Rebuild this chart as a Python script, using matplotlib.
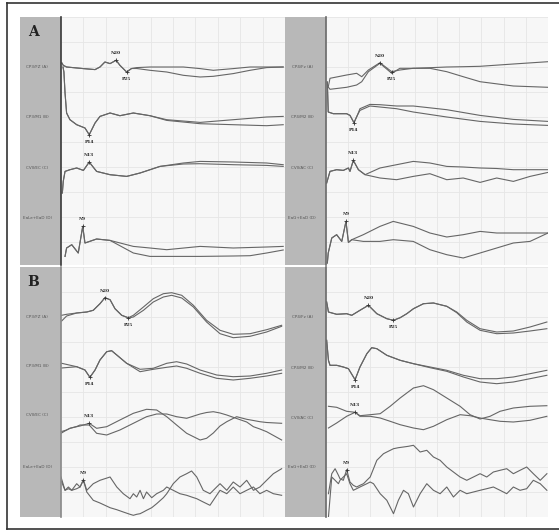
import numpy as np
import matplotlib.pyplot as plt
from matplotlib.lines import Line2D

# time in ms, amplitudes in display units (up = positive), two averaged runs per channel

# ---------- panel A, left side ----------
AL1_t = [0.4, 1.0, 2.5, 10, 15.2, 17.4, 19.6, 21.9, 24.6, 26.3, 29.3, 31.5, 33.8, 39.7, 47.2, 54.6, 62.1, 68, 76.9, 84.4, 91.8, 99.2]
AL1_a = [4, 1.7, 0, -1.6, -2.6, 0, 5, 3.4, 6.7, 1.7, -5, -1.5, -0.6, 0, 0, 0, -1.6, -3.3, -1.6, 0, 0, 0]
AL1_b = [4, 1.7, 0, -1.6, -2.6, 0, 5, 3.4, 6.7, 1.7, -5, -1.5, -1.5, -3.3, -5, -8.3, -10, -9.3, -6.6, -3.3, -0.6, 0]

AL2_t = [0.9, 1.3, 1.8, 2.5, 4, 7, 10.7, 12.6, 15.2, 17.4, 21.9, 26.3, 32.3, 39.7, 47.2, 62.1, 76.9, 91.8, 99.2]
AL2_a = [50, 45, 24, 4, -2.7, -7.7, -11, -17.7, -6, 0.6, 4, 1.3, 4, 1.3, -2.7, -5.4, -2.7, 0, 0.6]
AL2_b = [50, 45, 24, 4, -2.7, -7.7, -11, -17.7, -6, 0.6, 4, 1.3, 4, 1.3, -3.4, -6.7, -7.7, -8.7, -7.7]

AL3_t = [0.6, 1.0, 1.8, 4, 7, 10, 12.6, 15.9, 21.9, 29.3, 35.3, 44.2, 54.6, 62.1, 76.9, 91.8, 99.2]
AL3_a = [-25, -13.4, -3.4, -1.7, 0, -2.4, 5.9, -3.4, -6.7, -8.4, -5, 1.6, 5, 6.6, 6, 5, 3.3]
AL3_b = [-25, -13.4, -3.4, -1.7, 0, -2.4, 5.9, -3.4, -6.7, -8.4, -5, 1.6, 4, 4.3, 3.3, 2.6, 1.6]

AL4_t = [1.8, 2.5, 4.8, 7.7, 9.7, 10.7, 15.9, 21.9, 32.3, 39.7, 47.2, 62.1, 76.9, 84.4, 91.8, 99.2]
AL4_a = [-38.4, -30, -26.7, -35, -8.4, -25, -21, -22.4, -28.4, -30, -31.7, -28.4, -30, -29.5, -29, -28.4]
AL4_b = [-38.4, -30, -26.7, -35, -8.4, -25, -21, -22.4, -35, -38.4, -38.4, -38.4, -38, -37.7, -35, -32]

# ---------- panel A, right side ----------
AR1_t = [1.0, 1.8, 9.3, 13.8, 16.1, 19.1, 24.3, 29.6, 33.3, 39.3, 46.8, 54.4, 61.8, 69.4, 84.4, 100]
AR1_a = [-20, -11.3, -8, -6.3, -9.7, -3, 4.3, -4.7, -3, -1.3, -0.7, 0, 0.3, 0.7, 3, 5.3]
AR1_b = [-20, -22.3, -20.3, -18, -14.7, -4.7, 3.7, -6.3, -1.3, -1.3, -1.3, -4.7, -9.7, -14.7, -19, -20.3]

AR2_t = [0.6, 1.0, 3.3, 9.3, 10.8, 12.6, 14.1, 15.3, 19.8, 24.3, 31.8, 39.3, 54.4, 69.4, 84.4, 100]
AR2_a = [35, 5, 3.3, 3.3, 1.6, -5.7, 1.6, 8.3, 12.6, 12.3, 11, 11, 7.3, 1.6, -2.4, -4.4]
AR2_b = [35, 5, 3.3, 3.3, 1.6, -5.7, 1.6, 6.6, 11, 10, 8.3, 5, 0, -4.4, -7, -8.4]

AR3_t = [0.3, 1.8, 4.8, 7.8, 10.1, 10.8, 12.3, 14.6, 17.6, 24.3, 31.8, 39.3, 46.8, 54.4, 61.8, 69.4, 76.9, 84.4, 91.9, 100]
AR3_a = [-15, -3.4, -1.7, -2.4, 0, -3.4, 7.6, -1.7, -6.7, 0, 3.3, 6.6, 5, 1.6, 1, 0, -0.5, -1.7, -1.7, -1.7]
AR3_b = [-15, -3.4, -1.7, -2.4, 0, -3.4, 7.6, -1.7, -6.7, -10, -11.7, -8.4, -5.7, -11.7, -10, -14.4, -10, -13.4, -8.4, -4.4]

AR4_t = [0.6, 1.0, 2.6, 4.8, 7.1, 9.0, 10.1, 11.6, 16.8, 24.3, 30.3, 39.3, 46.8, 54.4, 61.8, 69.4, 76.9, 84.4, 91.9, 100]
AR4_a = [-45, -35, -20, -16.7, -23.4, -3.4, -24.4, -21.7, -16.7, -8.4, -3.4, -8.4, -15, -19, -16.7, -13.4, -15, -15, -15, -15]
AR4_b = [-45, -35, -20, -16.7, -23.4, -3.4, -24.4, -21.7, -23.4, -23.4, -21.7, -23.4, -31.7, -36.7, -40, -35, -30, -25, -23.4, -15]

# ---------- panel B, left side ----------
BL1_t = [0.3, 2.5, 7, 11.5, 14.4, 17.4, 19.6, 21.9, 24.1, 27.1, 30.1, 32.3, 36.8, 41.2, 45.7, 49.4, 53.9, 59.1, 65, 71, 76.9, 84.4, 91.8, 98.5]
BL1_a = [1.7, 2.7, 4, 5, 6.7, 13.3, 19.3, 17.3, 8.3, 1.7, -0.7, 1.7, 10, 18.3, 23.3, 24.3, 21.7, 11.7, -3.3, -13.3, -17.3, -16.7, -12.7, -8.3]
BL1_b = [-4, 1, 4, 5, 6.7, 13.3, 19.3, 17.3, 8.3, 1.7, -1, 0, 6.7, 15, 20, 21.7, 19, 10, -5, -16.7, -20.7, -19.3, -15, -9.3]

BL2_t = [0.3, 7, 10.7, 12.9, 15.2, 17.4, 20.4, 22.6, 24.9, 29.3, 35.3, 41.2, 47.2, 51.6, 56.1, 62.1, 69.5, 76.9, 84.4, 91.8, 98.5]
BL2_a = [2.7, -0.7, -4, -11.3, -4, 6, 14.3, 15.3, 11, 2.7, -3.3, -2.3, 2.7, 4.3, 2, -4, -9, -10.7, -10, -7.3, -4]
BL2_b = [-2, -0.7, -4, -11.3, -4, 6, 14.3, 15.3, 11, 2.7, -5.7, -3.3, -1.3, 0, -2.3, -7.3, -12.3, -14, -12.3, -10, -7.3]

BL3_t = [0, 2.5, 4, 7, 8.5, 10, 12.6, 15.9, 20.4, 26.3, 32.3, 38.2, 42.7, 47.2, 51.6, 56.1, 62.1, 65, 68, 71, 74, 78.4, 82.9, 85.9, 88.8, 91.8, 98.5]
BL3_a = [-18.3, -15, -13.3, -11.7, -11, -10, -8.3, -13.3, -11.7, -5, 1.7, 5.7, 5, -1.7, -10, -18.3, -25, -23.3, -18, -11, -6.7, -1.7, -4.3, -5.5, -6.7, -7.5, -8.3]
BL3_b = [-16.7, -15, -13.3, -11.5, -10, -10, -10, -18.3, -20, -15, -8.3, -1.7, 1, 1, -1.7, -3.3, 1, 2.5, 3.3, 2, 0, -3.5, -7, -11.7, -14, -16.7, -25]

BL4_t = [0, 1.8, 3.3, 4.8, 7, 8.5, 10, 11.5, 14.4, 17.4, 21.9, 24.9, 27.8, 30.8, 32.3, 33.8, 35.3, 36.8, 38.2, 40.5,
         42.7, 45.7, 47.2, 50.1, 53.1, 56.1, 58.3, 60.6, 63.5, 66.5, 69.5, 71, 74, 76.9, 79.9, 82.9, 85.9, 88.8, 91.8, 94.8, 98.5]
BL4_a = [-10, -23.3, -20, -23.3, -16.7, -20, -12.7, -23.3, -16.7, -13.3, -10, -20, -26.7, -31.7, -26.7, -30, -23.3, -31.7, -25, -30.7,
         -26.7, -23.3, -20, -23.3, -26.7, -28.3, -30, -31.7, -35, -38.3, -28.3, -23.3, -26.7, -20, -26.7, -23.3, -20, -26.7, -23.3, -26.7, -28.3]
BL4_b = [-13.3, -23.3, -21.7, -23.3, -21.7, -20, -13.3, -25, -33.3, -36, -40.7, -42.7, -45, -47.3, -48.3, -47.3, -46.7, -45, -43.3, -40.7,
         -36.7, -30.7, -26.7, -16.7, -10, -6.7, -4, -10, -23.3, -26.7, -20, -16.7, -23.3, -15, -20, -13.3, -23.3, -20, -13.3, -6.7, -1.7]

# ---------- panel B, right side ----------
BR1_t = [0.3, 1.1, 4.8, 9.3, 11.6, 15.3, 19.1, 22.9, 27.4, 30.4, 33.4, 36.4, 39.4, 43.9, 48.4, 54.4, 58.9, 63.4, 69.4, 76.9, 84.4, 91.9, 99.5]
BR1_a = [15, 5, 2.7, 3.3, 1.7, 6.7, 11.7, 3.3, -1.7, -3.3, -0.7, 3.3, 8.3, 13.3, 14, 10.7, 5, -3.3, -11.7, -15, -14, -10, -5]
BR1_b = [15, 5, 2.7, 3.3, 1.7, 6.7, 11.7, 3.3, -1.7, -3.3, -0.7, 3.3, 8.3, 13.3, 14, 10.7, 4.3, -5, -13.3, -16.7, -16, -14, -11.7]

BR2_t = [0.3, 1.1, 1.8, 4.8, 7.8, 10.1, 13.1, 15.3, 18.4, 20.6, 22.9, 27.4, 33.4, 39.4, 46.9, 54.4, 61.9, 69.4, 76.9, 84.4, 91.9, 99.5]
BR2_a = [27.7, 7.7, 2.7, 2.7, 1, -0.7, -11.7, 1, 14.3, 20.3, 19.3, 12.7, 7.7, 4.3, 1, -2.3, -7.3, -10.7, -10.7, -9, -5.7, -2.3]
BR2_b = [27.7, 7.7, 2.7, 2.7, 1, -0.7, -11.7, 1, 14.3, 20.3, 19.3, 12.7, 7.7, 4.3, 0.3, -3.3, -9, -14, -15.7, -14, -10.7, -7.3]

BR3_t = [1.1, 4.8, 9.3, 13.1, 15.3, 19.9, 24.4, 28.9, 33.4, 39.4, 43.9, 48.4, 54.4, 60.4, 64.9, 69.4, 73.9, 78.4, 84.4, 91.9, 99.5]
BR3_a = [11.7, 10.7, 6.7, 5.7, 1.7, 1.7, 0, -3.3, -6.7, -10, -11.7, -8.3, -1.7, 3.3, 2.3, 0, -1.7, -3.3, -4, -2.3, 1.7]
BR3_b = [-10, -5, 1.7, 5.7, 2.3, 3.3, 4.3, 11.7, 20, 30, 32.3, 28.3, 20, 11.7, 3.3, -1, 1.7, 6.7, 10, 11.7, 12.3]

BR4_t = [1.1, 2.6, 4.1, 5.6, 6.3, 7.8, 9.3, 10.8, 12.3, 13.8, 15.3, 16.9, 18.4, 19.9, 21.4, 22.9, 24.4, 25.9, 27.4, 30.4,
         32.6, 34.9, 37.1, 39.4, 42.4, 45.4, 48.4, 51.4, 54.4, 57.4, 60.4, 63.4, 66.4, 69.4, 72.4, 75.4, 78.4, 81.4, 84.4, 87.4,
         90.4, 93.4, 96.5, 99.5]
BR4_a = [-26.7, -6.7, -1.7, -8.3, -11.7, -13.3, -2.7, -15, -18.3, -20, -18.3, -16.7, -13.3, -10, -1.7, 6.7, 10, 13.3, 15, 18.3,
         19.3, 20, 20.7, 21.7, 15, 16.7, 10, 6.7, 0, -5, -10, -13.3, -10, -6.7, -10, -5, -3.3, -1.7, -6.7, -3.3,
         0, -6.7, -13.3, -6.7]
BR4_b = [-50, -10, -13.3, -16.7, -13.3, -10, -6.7, -16.7, -23.3, -21.7, -20, -18.3, -16.7, -15, -16.7, -21.7, -26.7, -30, -33.3, -46.7,
         -33.3, -23.3, -26.7, -40, -26.7, -16.7, -23.3, -26.7, -20, -30, -23.3, -26.7, -25, -23.3, -21.7, -20, -23.3, -26.7, -20, -23.3,
         -21.7, -13.3, -16.7, -23.3]

left_labels = ["CP3/FZ (A)", "CP3/M1 (B)", "CVII/EC (C)", "EaLe+EaD (D)"]
right_labels = ["CP4/Fz (A)", "CP4/M2 (B)", "CVII/AC (C)", "EaG+EaD (D)"]

# peaks: (channel, label, latency ms, negative peak -> label above)
peaks_AL = [(0, "N20", 24.6, True), (0, "P25", 29.3, False), (1, "P14", 12.6, False), (2, "N13", 12.6, True), (3, "N9", 9.7, True)]
peaks_AR = [(0, "N20", 24.3, True), (0, "P25", 29.6, False), (1, "P14", 12.6, False), (2, "N13", 12.3, True), (3, "N9", 9.0, True)]
peaks_BL = [(0, "N20", 19.6, True), (0, "P25", 30.1, False), (1, "P14", 12.9, False), (2, "N13", 12.6, True), (3, "N9", 10.0, True)]
peaks_BR = [(0, "N20", 19.1, True), (0, "P25", 30.4, False), (1, "P14", 13.1, False), (2, "N13", 13.1, True), (3, "N9", 9.3, True)]

W, H = 559, 531
fig = plt.figure(figsize=(W / 100, H / 100), dpi=100)
fig.patch.set_facecolor('white')

def px_axes(x0, y0, x1, y1):
    return fig.add_axes([x0 / W, 1 - y1 / H, (x1 - x0) / W, (y1 - y0) / H])

trace_col = '#666666'

def draw_panel(x_grey, x0, x1, y0, y1, chans, offsets, labels, peaks, letter=None, axis_col='#3a3a3a'):
    h = y1 - y0
    g = px_axes(x_grey, y0, x0, y1)
    g.set_facecolor('#b8b8b8')
    g.set_xlim(0, 1)
    g.set_ylim(h, 0)
    g.set_xticks([]); g.set_yticks([])
    for s in g.spines.values():
        s.set_visible(False)
    for lab, off in zip(labels, offsets):
        g.text(0.42, off, lab, fontsize=3, color='#555555', ha='center', va='center')
    if letter:
        g.text(0.33, 15, letter, fontsize=10, fontweight='bold', family='DejaVu Serif',
               color='#222222', ha='center', va='center')

    ax = px_axes(x0, y0, x1, y1)
    ax.set_facecolor('#f7f7f7')
    ax.set_xlim(0, 100)
    ax.set_ylim(h, 0)
    ax.set_xticks(np.arange(0, 101, 10))
    ax.set_yticks(np.arange(0, h, 25))
    ax.grid(True, color='#e6e6e6', lw=0.6)
    ax.tick_params(length=0, labelbottom=False, labelleft=False)
    for k, s in ax.spines.items():
        s.set_visible(k == 'left')
    ax.spines['left'].set_color(axis_col)
    ax.spines['left'].set_linewidth(1.2)

    for (t, a, b), off in zip(chans, offsets):
        ax.plot(t, off - np.array(b), color=trace_col, lw=0.8)
        ax.plot(t, off - np.array(a), color=trace_col, lw=0.8)

    for ch, lab, lat, above in peaks:
        t, a, b = chans[ch]
        yv = offsets[ch] - np.interp(lat, t, a)
        ax.plot([lat], [yv], marker='+', ms=3.5, mew=0.6, color='#333333')
        ax.text(lat, yv - 5 if above else yv + 5, lab, fontsize=3.2, fontweight='bold',
                family='DejaVu Serif', color='#222222', ha='center',
                va='bottom' if above else 'top')

rowA = (17, 265)
rowB = (267, 517)
offA = [50, 100, 151, 201]
offB = [50, 99, 148, 200]
offBR = [50, 101, 151, 200]

draw_panel(20, 61, 285, *rowA,
           [(AL1_t, AL1_a, AL1_b), (AL2_t, AL2_a, AL2_b), (AL3_t, AL3_a, AL3_b), (AL4_t, AL4_a, AL4_b)],
           offA, left_labels, peaks_AL, letter='A')
draw_panel(285, 326, 548, *rowA,
           [(AR1_t, AR1_a, AR1_b), (AR2_t, AR2_a, AR2_b), (AR3_t, AR3_a, AR3_b), (AR4_t, AR4_a, AR4_b)],
           offA, right_labels, peaks_AR, axis_col='#6a6a6a')
draw_panel(20, 61, 285, *rowB,
           [(BL1_t, BL1_a, BL1_b), (BL2_t, BL2_a, BL2_b), (BL3_t, BL3_a, BL3_b), (BL4_t, BL4_a, BL4_b)],
           offB, left_labels, peaks_BL, letter='B', axis_col='#8a8a8a')
draw_panel(285, 326, 548, *rowB,
           [(BR1_t, BR1_a, BR1_b), (BR2_t, BR2_a, BR2_b), (BR3_t, BR3_a, BR3_b), (BR4_t, BR4_a, BR4_b)],
           offBR, right_labels, peaks_BR, axis_col='#6a6a6a')

# outer frame (left, top, bottom)
for xs, ys in [([7, 7], [3, 529]), ([7, 559], [3, 3]), ([7, 559], [529, 529])]:
    fig.add_artist(Line2D([x / W for x in xs], [1 - y / H for y in ys], color='#333333', lw=1.2))

fig.savefig('out.png', dpi=100)
